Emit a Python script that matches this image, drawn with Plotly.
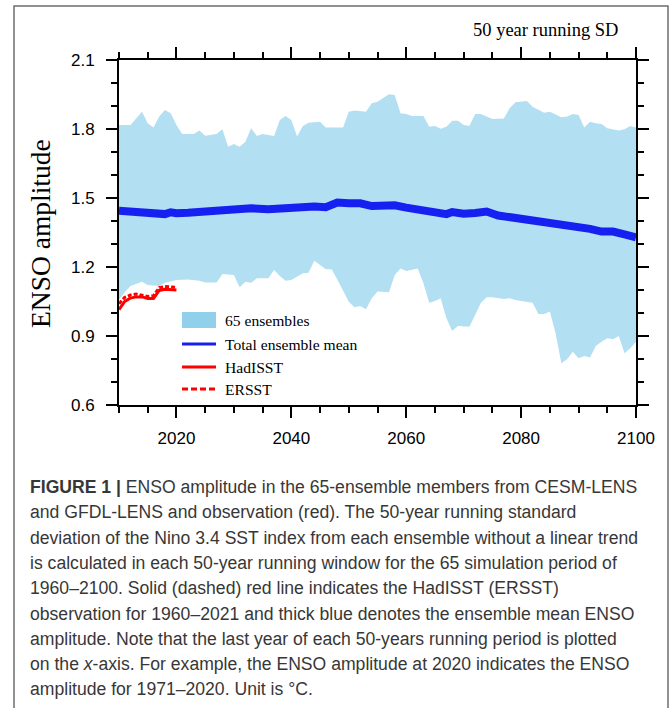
import plotly.graph_objects as go

# ---- data -------------------------------------------------------------
# ensemble spread (upper / lower envelope of 65 members), 50-yr running SD
upper_years = [2010, 2012, 2014, 2015, 2016, 2017, 2018, 2019, 2020, 2021, 2023, 2024,
               2025, 2027, 2028, 2029, 2030, 2031, 2032, 2033, 2034, 2035, 2037, 2038,
               2039, 2040, 2041, 2042, 2043, 2045, 2046, 2049, 2050, 2051, 2053, 2054,
               2055, 2056, 2057, 2058, 2059, 2060, 2061, 2063, 2064, 2065, 2066, 2067,
               2068, 2069, 2070, 2071, 2072, 2073, 2075, 2077, 2078, 2079, 2081, 2082,
               2084, 2085, 2087, 2088, 2089, 2090, 2091, 2092, 2093, 2094, 2095, 2097,
               2098, 2099, 2100]
upper_vals = [1.817, 1.817, 1.875, 1.825, 1.807, 1.854, 1.883, 1.868, 1.817, 1.778, 1.778, 1.793,
              1.771, 1.778, 1.799, 1.723, 1.735, 1.723, 1.745, 1.803, 1.770, 1.778, 1.770, 1.839,
              1.857, 1.839, 1.767, 1.813, 1.827, 1.832, 1.807, 1.807, 1.875, 1.880, 1.875, 1.912,
              1.919, 1.935, 1.951, 1.948, 1.868, 1.865, 1.857, 1.857, 1.810, 1.813, 1.801, 1.810,
              1.836, 1.836, 1.817, 1.813, 1.865, 1.865, 1.843, 1.846, 1.890, 1.916, 1.922, 1.897,
              1.871, 1.875, 1.851, 1.854, 1.865, 1.861, 1.807, 1.832, 1.825, 1.822, 1.803, 1.793,
              1.799, 1.813, 1.807]

lower_years = [2010, 2011, 2012, 2014, 2015, 2017, 2018, 2020, 2022, 2024, 2025, 2027,
               2028, 2030, 2031, 2032, 2033, 2034, 2036, 2037, 2038, 2039, 2040, 2042,
               2043, 2044, 2045, 2046, 2047, 2048, 2050, 2051, 2052, 2053, 2054, 2055,
               2057, 2058, 2059, 2060, 2062, 2063, 2064, 2065, 2066, 2067, 2068, 2069,
               2071, 2072, 2073, 2074, 2075, 2077, 2078, 2079, 2080, 2082, 2083, 2084,
               2085, 2086, 2087, 2088, 2089, 2090, 2091, 2092, 2093, 2094, 2095, 2096,
               2097, 2098, 2099, 2100]
lower_vals = [1.057, 1.090, 1.117, 1.136, 1.122, 1.117, 1.132, 1.143, 1.146, 1.140, 1.133, 1.133,
              1.170, 1.165, 1.112, 1.136, 1.132, 1.151, 1.151, 1.187, 1.161, 1.140, 1.143, 1.173,
              1.175, 1.227, 1.209, 1.190, 1.190, 1.146, 1.049, 1.025, 1.030, 1.016, 1.064, 1.093,
              1.090, 1.165, 1.194, 1.183, 1.194, 1.129, 1.045, 1.052, 1.064, 0.977, 0.922, 0.943,
              0.940, 0.991, 1.045, 1.068, 1.068, 1.061, 1.064, 1.057, 1.052, 1.045, 0.996, 0.996,
              1.006, 0.912, 0.781, 0.799, 0.832, 0.803, 0.813, 0.807, 0.857, 0.875, 0.890, 0.886,
              0.900, 0.825, 0.847, 0.875]

# total ensemble mean
mean_years = [2010, 2012, 2014, 2016, 2018, 2019, 2020, 2022, 2024, 2026, 2028, 2030,
              2033, 2036, 2039, 2042, 2044, 2046, 2048, 2050, 2052, 2054, 2056, 2058,
              2060, 2062, 2064, 2066, 2067, 2068, 2070, 2072, 2074, 2076, 2078, 2080,
              2082, 2084, 2086, 2088, 2090, 2092, 2094, 2096, 2098, 2100]
mean_vals = [1.445, 1.441, 1.440, 1.437, 1.430, 1.438, 1.434, 1.436, 1.440, 1.445, 1.450, 1.455,
             1.455, 1.451, 1.458, 1.462, 1.463, 1.460, 1.480, 1.477, 1.477, 1.465, 1.470, 1.468,
             1.458, 1.450, 1.440, 1.433, 1.430, 1.439, 1.432, 1.435, 1.441, 1.424, 1.417, 1.412,
             1.409, 1.400, 1.391, 1.382, 1.373, 1.366, 1.354, 1.354, 1.342, 1.329]

# observations
obs_years = [2010, 2011, 2012, 2013, 2014, 2015, 2016, 2017, 2018, 2019, 2020]
hadisst_vals = [1.015, 1.050, 1.065, 1.070, 1.070, 1.063, 1.063, 1.098, 1.103, 1.103, 1.100]
ersst_vals = [1.040, 1.068, 1.078, 1.082, 1.077, 1.072, 1.075, 1.110, 1.115, 1.115, 1.112]

x_ticks = [2020, 2040, 2060, 2080, 2100]
y_ticks = [0.6, 0.9, 1.2, 1.5, 1.8, 2.1]

legend_labels = ["65 ensembles", "Total ensemble mean", "HadISST", "ERSST"]

caption_lines = [
    "<b>FIGURE 1 |</b> ENSO amplitude in the 65-ensemble members from CESM-LENS",
    "and GFDL-LENS and observation (red). The 50-year running standard",
    "deviation of the Nino 3.4 SST index from each ensemble without a linear trend",
    "is calculated in each 50-year running window for the 65 simulation period of",
    "1960–2100. Solid (dashed) red line indicates the HadISST (ERSST)",
    "observation for 1960–2021 and thick blue denotes the ensemble mean ENSO",
    "amplitude. Note that the last year of each 50-years running period is plotted",
    "on the <i>x</i>-axis. For example, the ENSO amplitude at 2020 indicates the ENSO",
    "amplitude for 1971–2020. Unit is °C.",
]

# ---- layout geometry ----------------------------------------------------
W, H = 670, 708
ML, MR, MT, MB = 119, 34, 60, 303
PW, PH = W - ML - MR, H - MT - MB


def px(x):
    return (x - ML) / PW


def py(y):
    return (H - MB - y) / PH


BAND = "rgb(178,223,242)"
BAND_KEY = "rgb(145,208,234)"
BLUE = "rgb(22,32,240)"
RED = "rgb(255,0,0)"
SERIF = "Liberation Serif, Times New Roman, serif"
SANS = "Liberation Sans, Arial, sans-serif"

fig = go.Figure()

# spread as a closed polygon: upper edge forward, lower edge backward
fig.add_trace(go.Scatter(
    x=upper_years + lower_years[::-1],
    y=upper_vals + lower_vals[::-1],
    fill="toself", fillcolor=BAND, mode="none", hoverinfo="skip",
    showlegend=False,
))
fig.add_trace(go.Scatter(
    x=mean_years, y=mean_vals, mode="lines",
    line=dict(color=BLUE, width=8), showlegend=False,
))
fig.add_trace(go.Scatter(
    x=obs_years, y=hadisst_vals, mode="lines",
    line=dict(color=RED, width=3), showlegend=False,
))
fig.add_trace(go.Scatter(
    x=obs_years, y=ersst_vals, mode="lines",
    line=dict(color=RED, width=3, dash="4px,2px"), showlegend=False,
))

axis_common = dict(
    showgrid=False, zeroline=False, showline=True, linecolor="black", linewidth=2,
    mirror="allticks", ticks="outside", tickcolor="black", tickwidth=1.5,
    ticklen=11, tickfont=dict(family=SANS, size=17, color="black"),
)
fig.update_xaxes(
    range=[2010, 2100], tickvals=x_ticks, ticklabelstandoff=6,
    minor=dict(dtick=5, tick0=2010, ticks="outside", ticklen=6, tickcolor="black",
               tickwidth=1.5, showgrid=False),
    **axis_common,
)
fig.update_yaxes(
    range=[0.6, 2.1], tickvals=y_ticks, tickformat=".1f", ticklabelstandoff=8,
    minor=dict(dtick=0.1, tick0=0.6, ticks="outside", ticklen=6, tickcolor="black",
               tickwidth=1.5, showgrid=False),
    **axis_common,
)

shapes = []
annotations = []

# figure frame
shapes.append(dict(type="rect", xref="paper", yref="paper",
                   x0=px(14), x1=px(668), y0=py(720), y1=py(6),
                   line=dict(color="rgb(110,110,110)", width=1.5), layer="below"))

# hand-placed key
key_x0, key_x1, key_text_x = 182, 216, 223
key_rows = [320, 344, 367, 389]
shapes.append(dict(type="rect", xref="paper", yref="paper",
                   x0=px(key_x0), x1=px(key_x1), y0=py(key_rows[0] + 8), y1=py(key_rows[0] - 8),
                   fillcolor=BAND_KEY, line=dict(width=0)))
key_styles = [None, dict(color=BLUE, width=3), dict(color=RED, width=3),
              dict(color=RED, width=3, dash="6px,3px")]
for row, style in zip(key_rows[1:], key_styles[1:]):
    shapes.append(dict(type="line", xref="paper", yref="paper",
                       x0=px(key_x0), x1=px(key_x1), y0=py(row), y1=py(row), line=style))
for row, label in zip(key_rows, legend_labels):
    annotations.append(dict(xref="paper", yref="paper", x=px(key_text_x), y=py(row),
                            xanchor="left", yanchor="middle", showarrow=False, text=label,
                            font=dict(family=SERIF, size=15.6, color="black")))

# panel title and y-axis title
annotations.append(dict(xref="paper", yref="paper", x=px(620), y=py(30),
                        xanchor="right", yanchor="middle", showarrow=False,
                        text="50 year running SD",
                        font=dict(family=SERIF, size=18.5, color="black")))
annotations.append(dict(xref="paper", yref="paper", x=px(40), y=py(234),
                        xanchor="center", yanchor="middle", showarrow=False, textangle=-90,
                        text="ENSO amplitude",
                        font=dict(family=SERIF, size=27.5, color="black")))

# caption
cap_top, cap_step = 487, 25.3
for i, line in enumerate(caption_lines):
    annotations.append(dict(xref="paper", yref="paper", x=px(28), y=py(cap_top + i * cap_step),
                            xanchor="left", yanchor="middle", showarrow=False, text=line,
                            font=dict(family=SANS, size=17.6, color="rgb(55,55,55)")))

fig.update_layout(
    width=W, height=H, margin=dict(l=ML, r=MR, t=MT, b=MB),
    paper_bgcolor="white", plot_bgcolor="white",
    shapes=shapes, annotations=annotations, showlegend=False,
)

fig.write_html("out.html")
